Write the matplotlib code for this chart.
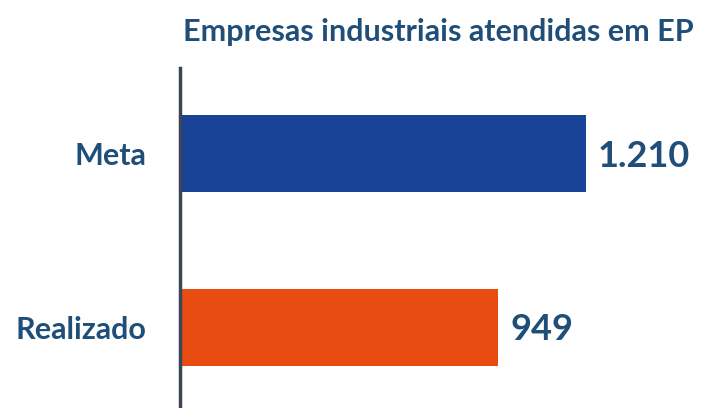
import matplotlib.pyplot as plt

categories = ["Realizado", "Meta"]
values = [949, 1210]
value_labels = ["949", "1.210"]
bar_colors = ["#E84C13", "#194397"]

title_color = "#1F4E79"
text_color = "#1F4E79"

plt.rcParams['font.family'] = ['Lato', 'DejaVu Sans']

fig = plt.figure(figsize=(7.06, 4.08), dpi=100, facecolor='w')
ax = fig.add_axes([180 / 706, 0, 526 / 706, 340 / 408])

ypos = list(range(len(categories)))
ax.barh(ypos, values, height=0.445, color=bar_colors)

ax.set_xlim(0, 526 / 0.3355)
ax.set_ylim(-0.468, 1.497)

# value labels at the end of each bar
for y, v, lbl in zip(ypos, values, value_labels):
    ax.text(v + 35, y - 0.015, lbl, va='center', ha='left', fontsize=26,
            fontweight='bold', color=text_color)

ax.set_yticks(ypos)
ax.set_yticklabels(categories, fontsize=22, fontweight='bold', color=text_color)
ax.tick_params(axis='y', length=0, pad=24)
ax.set_xticks([])

for side in ['top', 'right', 'bottom']:
    ax.spines[side].set_visible(False)
ax.spines['left'].set_color('#3A4556')
ax.spines['left'].set_linewidth(2.5)

fig.text(438 / 706, 1 - 32 / 408, "Empresas industriais atendidas em EP",
         ha='center', va='center', fontsize=22, fontweight='bold', color=title_color)

plt.savefig('out.png', dpi=100)
